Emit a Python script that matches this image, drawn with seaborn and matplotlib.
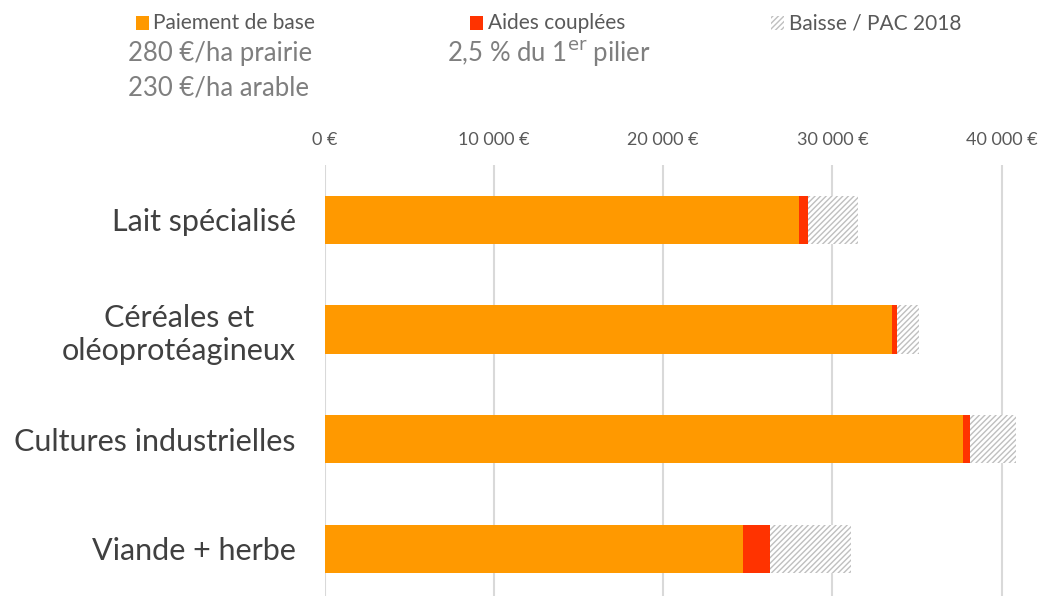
import matplotlib
matplotlib.use("Agg")
import matplotlib.pyplot as plt
import seaborn as sns
import pandas as pd
from matplotlib.patches import Rectangle

categories = ["Lait spécialisé", "Céréales et\noléoprotéagineux", "Cultures industrielles", "Viande + herbe"]
paiement_base = [28030, 33550, 37690, 24710]
aides_couplees = [530, 240, 455, 1620]
baisse_pac = [2980, 1320, 2725, 4740]
tick_values = [0, 10000, 20000, 30000, 40000]
tick_labels = ["0 €", "10 000 €", "20 000 €", "30 000 €", "40 000 €"]

sns.set_style("white")
plt.rcParams["font.family"] = ["Lato", "DejaVu Sans"]
plt.rcParams["hatch.linewidth"] = 1.0

df = pd.DataFrame({"cat": categories, "base": paiement_base,
                   "coupl": aides_couplees, "baisse": baisse_pac})
df["s1"] = df["base"] + df["coupl"]
df["s2"] = df["s1"] + df["baisse"]

fig = plt.figure(figsize=(10.48, 5.96), dpi=100)
ax = fig.add_axes([0.310, -0.013, 0.678, 0.736])

# stacked bars drawn as overlapping cumulative totals
sns.barplot(data=df, y="cat", x="s2", orient="h", color="white", width=0.44,
            edgecolor="#BFBFBF", linewidth=0, hatch="//////", saturation=1, ax=ax)
sns.barplot(data=df, y="cat", x="s1", orient="h", color="#FF3300", width=0.44,
            linewidth=0, saturation=1, ax=ax)
sns.barplot(data=df, y="cat", x="base", orient="h", color="#FF9900", width=0.44,
            linewidth=0, saturation=1, ax=ax)

ax.set_xlim(0, 42000)
ax.set_ylim(3.5, -0.5)
ax.xaxis.tick_top()
ax.set_xticks(tick_values)
ax.set_xticklabels(tick_labels, fontsize=13, color="#595959")
ax.tick_params(axis="x", length=0, pad=12)
ax.tick_params(axis="y", length=0, pad=21, labelsize=22, labelcolor="#404040")
for lbl in ax.get_yticklabels():
    lbl.set_multialignment("center")
ax.set_xlabel("")
ax.set_ylabel("")
ax.grid(axis="x", color="#D9D9D9", linewidth=1.5)
ax.set_axisbelow(True)
for s in ax.spines.values():
    s.set_visible(False)

# legend-like header
W, H = 1048, 596
def square(x, y, **kw):
    fig.patches.append(Rectangle((x / W, 1 - (y + 14) / H), 13 / W, 14 / H,
                                 transform=fig.transFigure, **kw))

square(136, 16, facecolor="#FF9900", linewidth=0)
fig.text(153 / W, 1 - 23 / H, "Paiement de base", fontsize=15, color="#595959", va="center")
square(470, 16, facecolor="#FF3300", linewidth=0)
fig.text(488 / W, 1 - 23 / H, "Aides couplées", fontsize=15, color="#595959", va="center")
square(771, 16, facecolor="white", edgecolor="#BFBFBF", linewidth=0, hatch="//////")
fig.text(789 / W, 1 - 23 / H, "Baisse / PAC 2018", fontsize=15, color="#595959", va="center")

fig.text(128 / W, 1 - 53 / H, "280 €/ha prairie", fontsize=18.5, color="#7F7F7F", va="center")
fig.text(128 / W, 1 - 88 / H, "230 €/ha arable", fontsize=18.5, color="#7F7F7F", va="center")
fig.text(447 / W, 1 - 53 / H, "2,5 % du 1$^{\\mathrm{er}}$ pilier", fontsize=18.5, color="#7F7F7F", va="center")

fig.savefig("out.png", dpi=100)
